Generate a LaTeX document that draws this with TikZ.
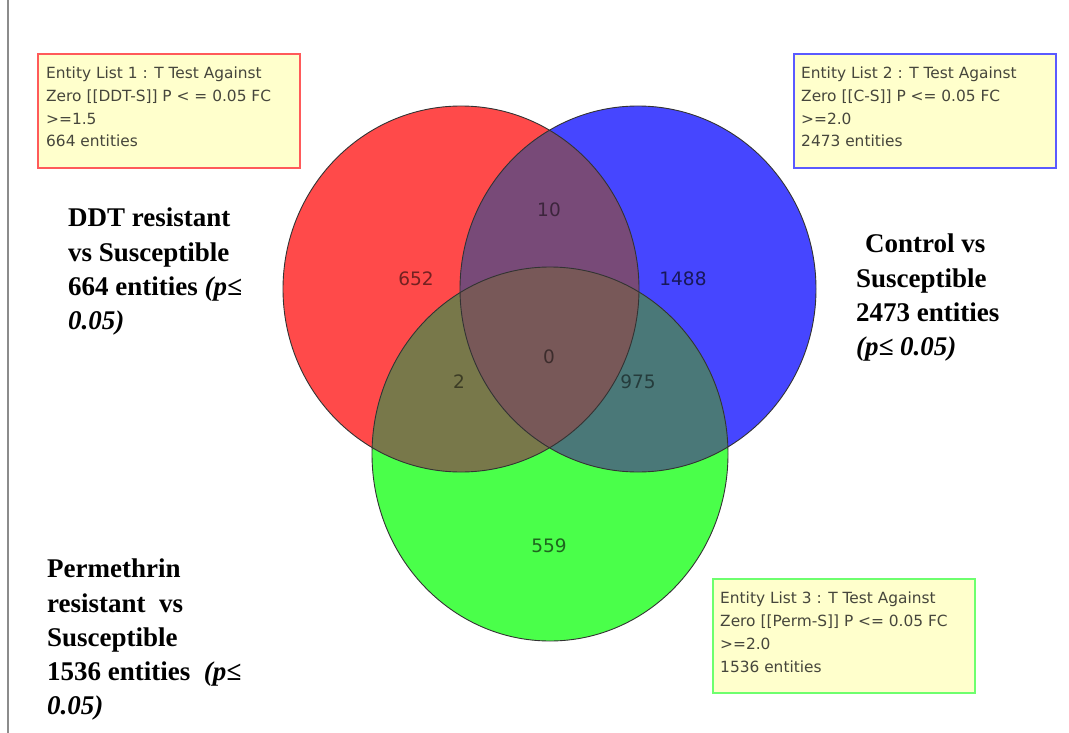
\documentclass[tikz,border=0pt]{standalone}
\usepackage{fontspec}
\setmainfont{Liberation Serif}
\newfontfamily\boxfont{DejaVu Sans}
\definecolor{cred}{RGB}{255,74,74}
\definecolor{cblue}{RGB}{70,70,255}
\definecolor{cgreen}{RGB}{74,255,74}
\definecolor{crb}{RGB}{120,74,120}
\definecolor{crg}{RGB}{120,120,74}
\definecolor{cbg}{RGB}{74,120,120}
\definecolor{crbg}{RGB}{120,88,88}
\definecolor{boxfill}{RGB}{255,255,204}
\definecolor{boxtext}{RGB}{70,70,60}
\definecolor{bred}{RGB}{255,90,90}
\definecolor{bblue}{RGB}{90,90,255}
\definecolor{bgreen}{RGB}{110,255,110}
\def\redpath{(rc) ellipse [x radius=178pt, y radius=183pt]}
\def\bluepath{(bc) ellipse [x radius=178pt, y radius=183pt]}
\def\greenpath{(gc) ellipse [x radius=178pt, y radius=187pt]}
\tikzset{
  infobox/.style={draw=#1, line width=1.7pt, fill=boxfill, anchor=north west, inner sep=0pt, minimum width=262pt, minimum height=114pt},
  infotext/.style={anchor=north west, align=left, inner sep=0pt, text=boxtext, font=\boxfont\fontsize{15.4}{22.7}\selectfont},
  biglabel/.style={anchor=north west, align=left, inner sep=0pt, font=\bfseries\fontsize{27}{34.2}\selectfont},
  count/.style={inner sep=0pt, font=\boxfont\fontsize{18.5}{18.5}\selectfont},
  outline/.style={draw=black!80, line width=0.9pt}
}
\begin{document}
\begin{tikzpicture}[x=1pt,y=-1pt]
\useasboundingbox (0,0) rectangle (1069,733);
\fill[white] (0,0) rectangle (1069,733);
\draw[black!45, line width=1.2pt] (8,0) -- (8,733);

\coordinate (rc) at (461,289);
\coordinate (bc) at (638,289);
\coordinate (gc) at (550,454);

\fill[cred] \redpath;
\fill[cblue] \bluepath;
\fill[cgreen] \greenpath;
\begin{scope}\clip \redpath; \fill[crb] \bluepath; \end{scope}
\begin{scope}\clip \redpath; \fill[crg] \greenpath; \end{scope}
\begin{scope}\clip \bluepath; \fill[cbg] \greenpath; \end{scope}
\begin{scope}\clip \redpath; \clip \bluepath; \fill[crbg] \greenpath; \end{scope}
\draw[outline] \redpath;
\draw[outline] \bluepath;
\draw[outline] \greenpath;

\node[count, text=cred!45!black] (n652) at (416,279) {652};
\node[count, text=cblue!35!black] (n1488) at (683,279) {1488};
\node[count, text=crb!50!black] (n10) at (549,210) {10};
\node[count, text=crbg!50!black] (n0) at (549,357) {0};
\node[count, text=crg!50!black] (n2) at (459,382) {2};
\node[count, text=cbg!50!black] (n975) at (638,382) {975};
\node[count, text=cgreen!40!black] (n559) at (549,546) {559};

\node[infobox=bred] (box1) at (37,53) {};
\node[infotext] (t1) at (46,67) {Entity List 1 : T Test Against\\Zero [[DDT-S]] P < = 0.05 FC\\>=1.5\\664 entities};
\node[infobox=bblue] (box2) at (793,53) {};
\node[infotext] (t2) at (801,67) {Entity List 2 : T Test Against\\Zero [[C-S]] P <= 0.05 FC\\>=2.0\\2473 entities};
\node[infobox=bgreen] (box3) at (712,578) {};
\node[infotext] (t3) at (720,592) {Entity List 3 : T Test Against\\Zero [[Perm-S]] P <= 0.05 FC\\>=2.0\\1536 entities};

\node[biglabel] (ddt) at (68,208) {DDT resistant\\vs Susceptible\\664 entities \textit{(p≤}\\\textit{0.05)}};
\node[biglabel] (ctl) at (856,234) {\hspace*{9pt}Control vs\\Susceptible\\2473 entities\\\textit{(p≤ 0.05)}};
\node[biglabel] (perm) at (47,559) {Permethrin\\resistant\ \ vs\\Susceptible\\1536 entities\ \ \textit{(p≤}\\\textit{0.05)}};
\end{tikzpicture}
\end{document}
